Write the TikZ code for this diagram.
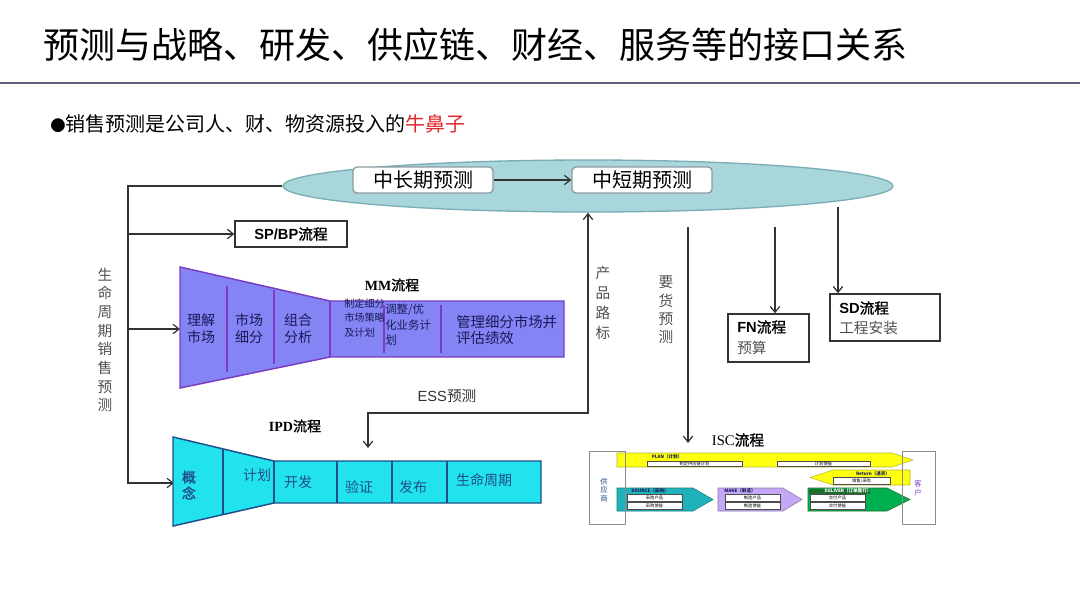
\documentclass[tikz,border=0pt]{standalone}
\usepackage{fontspec}
\setmainfont{Noto Sans CJK SC}
\newfontfamily\lsans{Liberation Sans}
\newfontfamily\lserif{Liberation Serif}
\newfontfamily\cjkb[FakeBold=1.5]{Noto Sans CJK SC}
\usetikzlibrary{arrows.meta,shapes.geometric}
\definecolor{titleline}{HTML}{5B6078}
\definecolor{ellfill}{HTML}{A8D6DA}
\definecolor{elldraw}{HTML}{7AAEB6}
\definecolor{boxdraw}{HTML}{8C9BA0}
\definecolor{mmfill}{HTML}{8484F4}
\definecolor{mmdraw}{HTML}{7A3CC0}
\definecolor{ipdfill}{HTML}{22E2EE}
\definecolor{ipddraw}{HTML}{1F4E8A}
\definecolor{navy}{HTML}{1A1A5A}
\definecolor{noseRed}{HTML}{E0262C}
\definecolor{greytext}{HTML}{505050}
\definecolor{linecol}{HTML}{333333}
\definecolor{plany}{HTML}{FFFF10}
\definecolor{plandraw}{HTML}{B8B830}
\definecolor{srcfill}{HTML}{20B2BA}
\definecolor{makefill}{HTML}{C4A8F6}
\definecolor{delfill}{HTML}{00B050}
\definecolor{deldark}{HTML}{1E6E2E}
\begin{document}
\begin{tikzpicture}[x=0.75pt,y=-0.75pt,
  conn/.style={draw=linecol,line width=0.9pt},
  arr/.style={conn,-{Straight Barb[length=4.5pt,width=7pt]}},
  darr/.style={conn,{Straight Barb[length=4.5pt,width=7pt]}-{Straight Barb[length=4.5pt,width=7pt]}},
  vtext/.style={font=\fontsize{11}{14}\selectfont,text=greytext,align=center,inner sep=0},
  mmtext/.style={text=navy,align=left,inner sep=0},
  ipdtext/.style={text=ipddraw,inner sep=0,font=\fontsize{10.5}{12.5}\selectfont},
  sub/.style={draw=black!70,fill=white,line width=0.3pt},
  tiny/.style={inner sep=0,font=\fontsize{3.2}{3.4}\selectfont}]
\useasboundingbox (0,0) rectangle (1080,608);
\fill[white] (0,0) rectangle (1080,608);

% title
\node[anchor=west,inner sep=0,font=\fontsize{27}{30}\selectfont] (title) at (43,45) {预测与战略、研发、供应链、财经、服务等的接口关系};
\draw[titleline,line width=2.2pt] (0,83) -- (1080,83);
\node[anchor=west,inner sep=0,font=\fontsize{15}{18}\selectfont] (bullet) at (50,124) {{\fontsize{11.5}{12}\selectfont ●}销售预测是公司人、财、物资源投入的{\color{noseRed}牛鼻子}};

% ellipse
\node[ellipse,draw=elldraw,fill=ellfill,line width=1pt,minimum width=457.5pt,minimum height=39pt,inner sep=0] (ell) at (588,186) {};
\node[draw=boxdraw,fill=white,rounded corners=3pt,line width=1pt,minimum width=105pt,minimum height=19.5pt,inner sep=0,font=\fontsize{15}{18}\selectfont] (long) at (423,180) {中长期预测};
\node[draw=boxdraw,fill=white,rounded corners=3pt,line width=1pt,minimum width=105pt,minimum height=19.5pt,inner sep=0,font=\fontsize{15}{18}\selectfont] (short) at (642,180) {中短期预测};
\draw[arr] (long) -- (short);

% SP/BP
\node[draw=linecol,line width=1pt,minimum width=84pt,minimum height=19.5pt,inner sep=0,font=\fontsize{11}{13}\selectfont] (spbp) at (291,234) {{\lsans\bfseries SP/BP}{\cjkb 流程}};

% left trunk
\coordinate (trunkTop) at (128,186);
\coordinate (trunkSP) at (128,234);
\coordinate (trunkMM) at (128,329);
\coordinate (trunkBot) at (128,483);
\coordinate (mmIn) at (180,329);
\coordinate (ipdIn) at (174,483);
\draw[arr] (ell.west) -- (trunkTop) -- (trunkBot) -- (ipdIn);
\draw[arr] (trunkSP) -- (spbp.west);
\draw[arr] (trunkMM) -- (mmIn);
\node[vtext] (lifeFc) at (105,340) {生\\命\\周\\期\\销\\售\\预\\测};

% MM funnel
\filldraw[fill=mmfill,draw=mmdraw,line width=1.1pt] (180,267) -- (330,301) -- (564,301) -- (564,357) -- (330,357) -- (180,388) -- cycle;
\draw[mmdraw,line width=0.9pt] (227,286) -- (227,372);
\draw[mmdraw,line width=0.9pt] (274,290) -- (274,364);
\draw[mmdraw,line width=0.9pt] (330,301) -- (330,357);
\draw[mmdraw,line width=0.9pt] (384,305) -- (384,353);
\draw[mmdraw,line width=0.9pt] (441,305) -- (441,353);
\node[mmtext,font=\fontsize{10.5}{12.8}\selectfont] (mm1) at (201,329) {理解\\市场};
\node[mmtext,font=\fontsize{10.5}{12.8}\selectfont] (mm2) at (249,329) {市场\\细分};
\node[mmtext,font=\fontsize{10.5}{12.8}\selectfont] (mm3) at (298,329) {组合\\分析};
\node[mmtext,anchor=west,font=\fontsize{7.6}{11}\selectfont] (mm4) at (344,318) {制定细分\\市场策略\\及计划};
\node[mmtext,anchor=west,font=\fontsize{8.6}{11.6}\selectfont] (mm5) at (385,325) {调整/优\\化业务计\\划};
\node[mmtext,anchor=west,font=\fontsize{10.8}{12.4}\selectfont] (mm6) at (456,330) {管理细分市场并\\评估绩效};
\node[inner sep=0,font=\fontsize{10.5}{12}\selectfont] (mmLabel) at (392,285) {{\lserif\bfseries MM}{\cjkb 流程}};

% ESS / product roadmap link
\node[inner sep=0,font=\fontsize{11}{13}\selectfont,text=linecol] (ess) at (447,396) {{\lsans ESS}预测};
\coordinate (essDown) at (368,448);
\coordinate (essCorner1) at (368,413);
\coordinate (essCorner2) at (588,413);
\draw[darr] (essDown) -- (essCorner1) -- (essCorner2) -- (ell.south);
\node[vtext,font=\fontsize{11}{15}\selectfont] (roadmap) at (603,303) {产\\品\\路\\标};

% IPD funnel
\filldraw[fill=ipdfill,draw=ipddraw,line width=1.1pt] (173,437) -- (274,461) -- (541,461) -- (541,503) -- (274,503) -- (173,526) -- cycle;
\draw[ipddraw,line width=0.9pt] (223,449) -- (223,514);
\draw[ipddraw,line width=0.9pt] (274,461) -- (274,503);
\draw[ipddraw,line width=0.9pt] (337,461) -- (337,503);
\draw[ipddraw,line width=0.9pt] (392,461) -- (392,503);
\draw[ipddraw,line width=0.9pt] (447,461) -- (447,503);
\node[ipdtext,align=center,font=\cjkb\fontsize{10.5}{12}\selectfont] (ipd1) at (189,485) {概\\念};
\node[ipdtext] (ipd2) at (257,475) {计划};
\node[ipdtext] (ipd3) at (298,482) {开发};
\node[ipdtext] (ipd4) at (359,487) {验证};
\node[ipdtext] (ipd5) at (413,487) {发布};
\node[ipdtext] (ipd6) at (484,480) {生命周期};
\node[inner sep=0,font=\fontsize{10.5}{12}\selectfont] (ipdLabel) at (295,426) {{\lserif\bfseries IPD}{\cjkb 流程}};

% demand forecast to ISC
\coordinate (yhTop) at (688,227);
\coordinate (yhEnd) at (688,443);
\draw[arr] (yhTop) -- (yhEnd);
\node[vtext,font=\fontsize{11}{13.7}\selectfont] (demand) at (666,310) {要\\货\\预\\测};
\node[inner sep=0,font=\fontsize{11}{13}\selectfont] (iscLabel) at (738,440) {{\lserif ISC}{\cjkb 流程}};

% FN and SD
\node[draw=linecol,line width=1pt,minimum width=60.75pt,minimum height=36pt,inner sep=0] (fn) at (768.5,338) {};
\node[anchor=west,inner sep=0,font=\fontsize{11}{13}\selectfont] (fnT) at (737,327) {{\lsans\bfseries FN}{\cjkb 流程}};
\node[anchor=west,inner sep=0,font=\fontsize{11}{13}\selectfont,text=greytext] (fnB) at (737,348) {预算};
\coordinate (fnTop) at (775,227);
\draw[arr] (fnTop) -- (fnTop |- fn.north);
\node[draw=linecol,line width=1pt,minimum width=82.5pt,minimum height=35.25pt,inner sep=0] (sd) at (885,317.5) {};
\node[anchor=west,inner sep=0,font=\fontsize{11}{13}\selectfont] (sdT) at (839,308) {{\lsans\bfseries SD}{\cjkb 流程}};
\node[anchor=west,inner sep=0,font=\fontsize{11}{13}\selectfont,text=greytext] (sdB) at (839,328) {工程安装};
\coordinate (sdTop) at (838,207);
\draw[arr] (sdTop) -- (sdTop |- sd.north);

% ISC (SCOR) graphic
\filldraw[fill=plany,draw=plandraw,line width=0.4pt] (617,453) -- (892,453) -- (913,460) -- (892,467) -- (617,467) -- cycle;
\node[tiny,text=navy,font=\bfseries\fontsize{3.4}{3.6}\selectfont] (planL) at (667,456.5) {PLAN（计划）};
\draw[sub] (647,461) rectangle (742,466.5);
\node[tiny] (plan1) at (694.5,463.7) {制定供应链计划};
\draw[sub] (777,461) rectangle (870,466.5);
\node[tiny] (plan2) at (823.5,463.7) {计划使能};

\filldraw[fill=plany,draw=plandraw,line width=0.4pt] (910,470) -- (833,470) -- (810,477.5) -- (833,485) -- (910,485) -- cycle;
\node[tiny,text=navy,font=\bfseries\fontsize{3.4}{3.6}\selectfont] (retL) at (873,473.5) {Return（退货）};
\draw[sub] (833,477.5) rectangle (890,484);
\node[tiny] (ret1) at (861.5,480.8) {销售/采购};

\filldraw[fill=srcfill,draw=srcfill!70!black,line width=0.4pt] (617,488) -- (693,488) -- (713,499.5) -- (693,511) -- (617,511) -- cycle;
\node[tiny,text=navy,font=\bfseries\fontsize{3.4}{3.6}\selectfont] (srcL) at (650,491) {SOURCE（采购）};
\draw[sub] (627,494) rectangle (682,501);
\node[tiny] (src1) at (654.5,497.5) {采购产品};
\draw[sub] (627,502.5) rectangle (682,509);
\node[tiny] (src2) at (654.5,505.8) {采购使能};

\filldraw[fill=makefill,draw=makefill!70!black,line width=0.4pt] (718,488) -- (783,488) -- (802,499.5) -- (783,511) -- (718,511) -- cycle;
\node[tiny,text=navy,font=\bfseries\fontsize{3.4}{3.6}\selectfont] (makeL) at (740,491) {MAKE（制造）};
\draw[sub] (725,494) rectangle (780,501);
\node[tiny] (make1) at (752.5,497.5) {制造产品};
\draw[sub] (725,502.5) rectangle (780,509);
\node[tiny] (make2) at (752.5,505.8) {制造使能};

\filldraw[fill=delfill,draw=deldark,line width=0.4pt] (808,488) -- (887,488) -- (910,499.5) -- (887,511) -- (808,511) -- cycle;
\fill[deldark] (808.5,488.5) rectangle (870,493.5);
\node[tiny,text=white,font=\bfseries\fontsize{3.4}{3.6}\selectfont] (delL) at (848,491) {DELIVER（订单履行）};
\draw[sub] (810,494.5) rectangle (865,501);
\node[tiny] (del1) at (837.5,497.8) {交付产品};
\draw[sub] (810,502.5) rectangle (865,509);
\node[tiny] (del2) at (837.5,505.8) {交付使能};

\draw[black!45,line width=0.5pt] (589,451) rectangle (625,524);
\draw[black!45,line width=0.5pt] (902,451) rectangle (935,524);
\node[tiny,align=center,text=ipddraw,font=\fontsize{5.5}{6.5}\selectfont] (supplier) at (604,490) {供\\应\\商};
\node[tiny,align=center,text=mmdraw,font=\fontsize{5.5}{6.5}\selectfont] (customer) at (918,488) {客\\户};
\end{tikzpicture}
\end{document}
